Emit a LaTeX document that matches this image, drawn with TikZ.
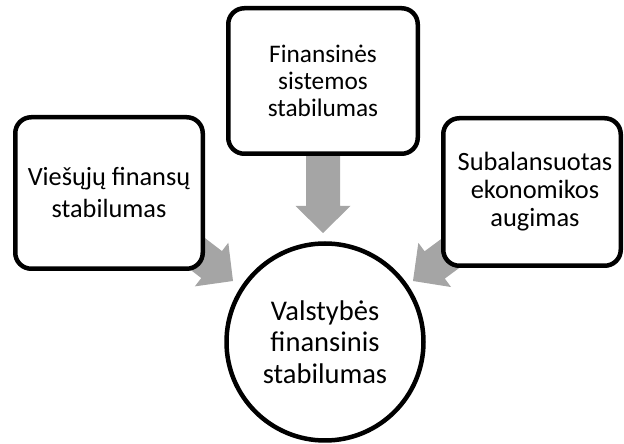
\documentclass[tikz,border=0pt]{standalone}
\usepackage{fontspec}
\setmainfont{Carlito}
\pgfdeclarelayer{bg}
\pgfsetlayers{bg,main}
\definecolor{arrowgray}{RGB}{165,165,165}
\tikzset{
  txt/.style={align=center, inner sep=0pt},
  box/.style={txt, draw, line width=4.5pt, rounded corners=16pt, fill=white},
  circ/.style={txt, draw, circle, line width=4.5pt, fill=white},
  blockarrow/.pic={\fill[arrowgray] (0,0) -- (-27,27.5) -- (-27,17) -- (-85,17) -- (-85,-17) -- (-27,-17) -- (-27,-27.5) -- cycle;}
}
\begin{document}
\begin{tikzpicture}[x=1pt,y=1pt]
\useasboundingbox (0,0) rectangle (624,444);
\node[box, minimum width=187.5pt, minimum height=151.5pt, font=\fontsize{26.3}{32}\selectfont] (left) at (109,251) {Viešųjų finansų\\stabilumas};
\node[box, minimum width=189.5pt, minimum height=145.5pt, font=\fontsize{25.3}{27}\selectfont] (top) at (323,363) {Finansinės\\sistemos\\stabilumas};
\node[box, minimum width=177.5pt, minimum height=147.5pt, font=\fontsize{26.4}{28}\selectfont] (right) at (532,252) {\hspace*{6pt}Subalansuotas\\\hspace*{6pt}ekonomikos\\\hspace*{6pt}augimas};
\node[circ, minimum size=197pt, font=\fontsize{28.5}{31.5}\selectfont] (center) at (325,102) {Valstybės\\finansinis\\stabilumas};
\coordinate (tipL) at (233,163);
\coordinate (tipT) at (323,211);
\coordinate (tipR) at (413,163);
\begin{pgfonlayer}{bg}
\pic[rotate=-37.5] at (tipL) {blockarrow};
\pic[rotate=-90] at (tipT) {blockarrow};
\pic[rotate=-143.5] at (tipR) {blockarrow};
\end{pgfonlayer}
\end{tikzpicture}
\end{document}
